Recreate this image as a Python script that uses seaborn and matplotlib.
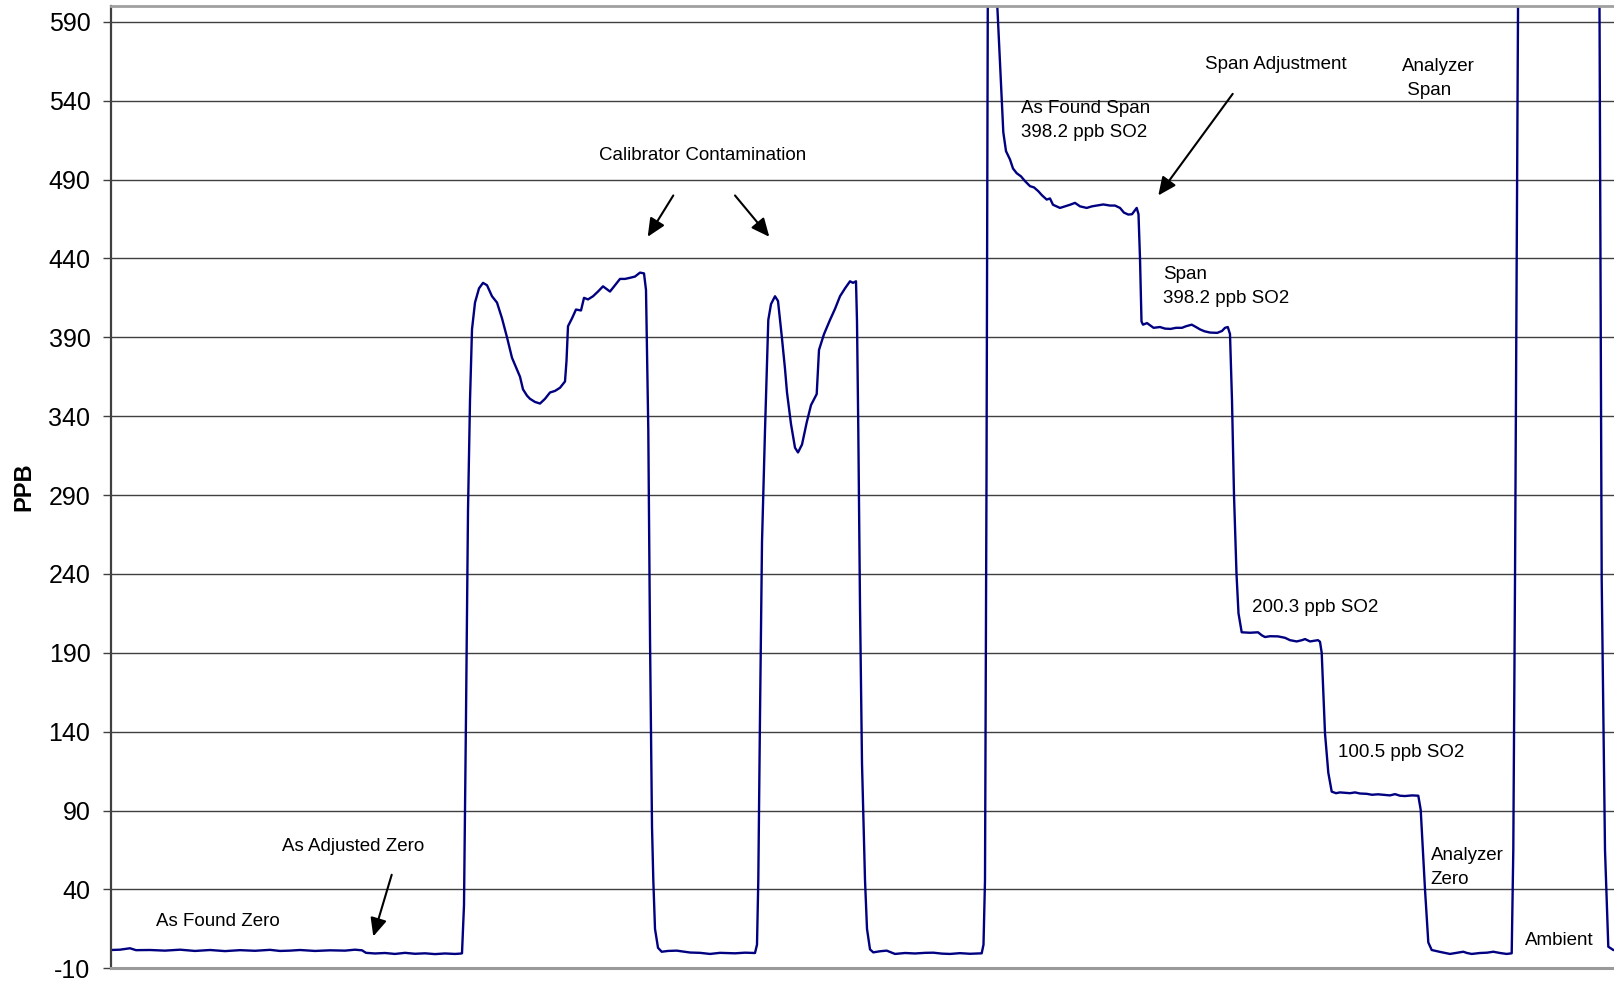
import numpy as np
import matplotlib
matplotlib.use("Agg")
import matplotlib.pyplot as plt
import seaborn as sns

sns.set_theme(style="white")
plt.rcParams["font.family"] = ["Liberation Sans", "DejaVu Sans"]
plt.rcParams["axes.unicode_minus"] = False

LINE = "#000080"

# time axis in sample units, concentration in ppb SO2
zero_t = [0, 9, 19, 25, 39, 54, 69, 84, 99, 114, 129, 144, 159, 169, 179, 189,
          204, 219, 234, 244, 251, 255, 264, 274, 284, 294, 304, 314, 324, 334, 344, 349]
zero_ppb = [1.6, 1.8, 2.7, 1.5, 1.6, 1.2, 1.8, 1.0, 1.6, 0.9, 1.5, 1.1, 1.7, 1.0, 1.2, 1.6,
            1.0, 1.4, 1.2, 1.8, 1.4, -0.2, -0.6, -0.3, -0.9, -0.2, -0.8, -0.5, -1.0, -0.6, -0.9, -0.7]

cal1_t = [351, 353, 355, 357, 359, 361, 364, 368, 372, 376,
          381, 386, 391, 396, 401, 409, 412, 416, 419, 424,
          429, 434, 439, 444, 449, 454, 455.5, 457, 461, 465,
          470, 473, 477, 482, 487, 492, 499, 504, 509, 514,
          519, 524, 529, 533, 535, 536, 537.3, 539, 541, 542.3,
          544, 547, 550.7, 557, 565.7, 579, 589, 599, 609, 624,
          634, 644]
cal1_ppb = [-0.5, 30, 150, 280, 350, 395, 412, 421, 424.5, 423,
            416, 412, 402, 390, 377, 365, 357, 353, 351, 349,
            348, 351, 355, 356, 358, 362, 375, 397, 402, 407.6,
            407, 415, 414, 416, 419, 422.3, 419, 423, 427, 427,
            427.7, 428.5, 431, 430.5, 420, 380, 331, 200, 80, 46,
            15, 3, 0.5, 1.0, 1.2, 0, -0.2, -0.9, -0.2, -0.5,
            -0.1, -0.3]

cal2_t = [646, 647.3, 649, 651, 654, 657.3, 660, 664, 667, 670.7,
          674, 676, 680, 684, 687, 691, 695.7, 700, 705.7, 708,
          713, 719, 724, 729, 734, 739, 742, 745, 746, 747.3,
          749, 751, 754, 756, 759, 762.3, 769, 775.7, 784, 794,
          804, 814, 822.3, 831, 839, 849, 859, 870.7]
cal2_ppb = [5, 46, 150, 260, 331, 401, 411, 416, 413, 391,
            370, 355, 335, 320, 317, 322, 336, 347, 354, 382,
            392, 401, 408, 416, 421, 425.5, 424.5, 425.5, 400, 331,
            220, 120, 46, 15, 2, 0.1, 0.8, 1.2, -0.9, -0.3,
            -0.6, -0.2, -0.1, -0.7, -0.9, -0.4, -0.8, -0.5]

span_t = [872.5, 874, 875.5, 876.7, 878, 884, 886.3, 889, 892.3, 895,
          899, 902, 905.7, 910, 914, 919, 923, 927.3, 931, 935.7,
          939, 942, 949, 954, 959, 964, 969, 975.7, 981, 986,
          992.3, 999, 1004, 1009, 1013, 1017.3, 1021, 1025.7, 1027.5, 1029,
          1030.5, 1032, 1036, 1042.6, 1049, 1054, 1059.5, 1065, 1071, 1075,
          1080.7, 1085, 1089, 1093.5, 1099, 1106.2, 1111, 1114, 1116.8, 1119,
          1121, 1123, 1125.5, 1127.5, 1130.7, 1139, 1147, 1151, 1154, 1159,
          1167, 1174, 1179, 1185.7, 1191, 1194, 1199, 1207, 1209, 1210.7,
          1214, 1217.3, 1220.7, 1225, 1229, 1239, 1244, 1249, 1255.7, 1261,
          1267, 1272, 1279, 1284, 1289, 1294, 1301, 1307.3, 1309.7, 1314,
          1317.3, 1320.7, 1329, 1339, 1346, 1352.3, 1356, 1360.7, 1369, 1376,
          1382.3, 1389, 1395.7, 1400.7, 1402.3, 1404, 1407, 1408, 1487, 1488.5,
          1490.7, 1494, 1497.3, 1502.3, 1504]
span_ppb = [5, 46, 300, 600, 660, 660, 600, 564, 520, 508,
            502.7, 497, 494, 492, 489, 485.8, 485, 482.6, 480, 477.3,
            478, 474, 472, 473, 474, 475.2, 473, 472, 473, 473.5,
            474.2, 473.5, 473.5, 472, 469, 467.8, 468, 472, 468, 440,
            400, 398, 399, 396, 396.5, 395.5, 395.3, 396, 396, 397,
            398, 396.5, 395, 393.8, 393, 392.8, 394, 396, 396.5, 392,
            350, 290, 240, 215, 203, 202.7, 203, 201, 200, 200.5,
            200.4, 199.5, 198, 197.2, 198, 198.7, 197.2, 198, 197, 190,
            139, 114, 102, 101, 101.5, 101, 101.5, 100.8, 100.6, 100,
            100.3, 100, 99.6, 100.4, 99.4, 99.2, 99.6, 99.4, 90.5, 40,
            6.4, 1.6, 0.4, -0.9, -0.2, 0.5, -0.3, -0.9, -0.3, -0.1,
            0.5, -0.3, -0.9, -0.5, 65, 236, 600, 660, 660, 600,
            236, 65, 3.7, 1.6, 1.5]

y_ticks = list(range(-10, 591, 50))

# (text, t, ppb) for the labels, (start, end) for the arrows
labels = [
    ("As Found Zero", 45, 19.7),
    ("As Adjusted Zero", 170.7, 67.2),
    ("As Found Span\n398.2 ppb SO2", 910, 527.2),
    ("Span Adjustment", 1094, 562.9),
    ("Analyzer\n Span", 1291, 554.0),
    ("Span\n398.2 ppb SO2", 1052, 422.4),
    ("200.3 ppb SO2", 1140.7, 218.4),
    ("100.5 ppb SO2", 1227.3, 126.8),
    ("Analyzer\nZero", 1319.7, 54.0),
    ("Ambient", 1414, 7.6),
]
arrows = [
    ((280.7, 49.3), (262.3, 10.2)),
    ((562.3, 479.9), (536.7, 453.7)),
    ((624.0, 479.9), (658.3, 453.7)),
    ((1121.7, 544.3), (1047.3, 479.9)),
]

t = np.concatenate([zero_t, cal1_t, cal2_t, span_t])
ppb = np.concatenate([zero_ppb, cal1_ppb, cal2_ppb, span_ppb])

fig = plt.figure(figsize=(16.15, 9.85), dpi=100)
ax = fig.add_axes([111 / 1615, 16.7 / 985, 1504 / 1615, 962.3 / 985])

sns.lineplot(x=t, y=ppb, ax=ax, color=LINE, linewidth=1.7,
             estimator=None, sort=False)

ax.set_xlim(0, 1504)
ax.set_ylim(-10, 600)
ax.set_yticks(y_ticks)
ax.set_xticks([])
ax.set_xlabel("")
ax.grid(axis="y", color="#404040", linewidth=1.0)
ax.set_axisbelow(True)

ax.spines["right"].set_visible(False)
ax.spines["top"].set_color("#a0a0a0")
ax.spines["top"].set_linewidth(2)
ax.spines["bottom"].set_color("#9a9a9a")
ax.spines["bottom"].set_linewidth(2.2)
ax.spines["left"].set_color("#404040")
ax.spines["left"].set_linewidth(1.6)

ax.tick_params(axis="y", direction="out", length=5.8, width=1,
               color="#404040", labelsize=18, labelcolor="black", pad=9, left=True)

ax.set_ylabel("PPB", fontsize=17, fontweight="bold", color="black")
ax.yaxis.set_label_coords(-0.0505, 0.5)

for text, tx, ty in labels:
    ax.text(tx, ty, text, fontsize=13.5, ha="left", va="center",
            color="black", linespacing=1.52)

ax.text(592, 505.2, "Calibrator Contamination", fontsize=13.5,
        ha="center", va="center", color="black")

for start, end in arrows:
    ax.annotate("", xy=end, xytext=start,
                arrowprops=dict(arrowstyle="-|>,head_length=0.55,head_width=0.25",
                                color="black", lw=1.5, mutation_scale=20,
                                shrinkA=0, shrinkB=0))

fig.savefig("out.png", dpi=100)
